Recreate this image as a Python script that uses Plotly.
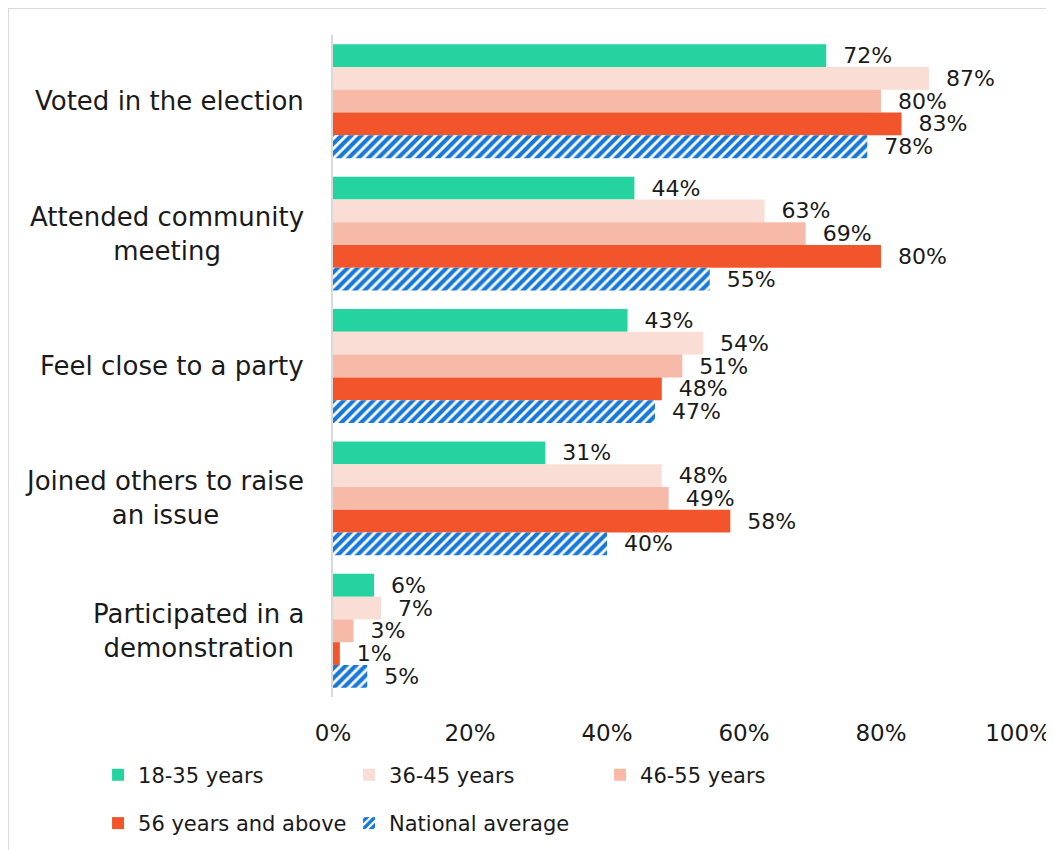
import plotly.graph_objects as go

categories = [
    "Voted in the election",
    "Attended community<br>meeting",
    "Feel close to a party",
    "Joined others to raise<br>an issue",
    "Participated in a<br>demonstration",
]
series_names = ["18-35 years", "36-45 years", "46-55 years", "56 years and above", "National average"]
v_18_35 = [72, 44, 43, 31, 6]
v_36_45 = [87, 63, 54, 48, 7]
v_46_55 = [80, 69, 51, 49, 3]
v_56_up = [83, 80, 48, 58, 1]
v_national = [78, 55, 47, 40, 5]
tick_vals = [0, 20, 40, 60, 80, 100]
tick_text = ["0%", "20%", "40%", "60%", "80%", "100%"]

FONT = "DejaVu Sans"
TXT = "#1a1a1a"
colors = ["#24D3A0", "#FADDD4", "#F8BAA8", "#F2552B", "#1878D8"]
values = [v_18_35, v_36_45, v_46_55, v_56_up, v_national]

fig = go.Figure()
for i, (name, vals, col) in enumerate(zip(series_names, values, colors)):
    if i == 4:
        marker = dict(color="white", line=dict(width=0),
                      pattern=dict(shape="/", fgcolor=col, bgcolor="white", size=7,
                                   solidity=0.6, fgopacity=1))
    else:
        marker = dict(color=col, line=dict(width=0))
    fig.add_trace(go.Bar(
        y=categories, x=vals, orientation="h", name=name, marker=marker,
        text=["\u00a0\u00a0" + str(v) + "%" for v in vals],
        texttemplate="%{text}", textposition="outside",
        textfont=dict(family=FONT, size=22, color=TXT),
        constraintext="none", cliponaxis=False,
        legend="legend" if i < 3 else "legend2",
        hoverinfo="skip",
    ))

for c in categories:
    fig.add_annotation(x=-0.0394, xref="paper", y=c, yref="y", text=c,
                       xanchor="right", yanchor="middle", align="center", showarrow=False,
                       font=dict(family=FONT, size=26, color=TXT))

# outer chart border
fig.add_shape(type="rect", xref="paper", yref="paper", x0=-0.4745, x1=2, y0=-1, y1=1.0408,
              line=dict(color="#d9d9d9", width=2), fillcolor="rgba(0,0,0,0)", layer="below")

leg_common = dict(orientation="h", xanchor="left", yanchor="middle", x=-0.343,
                  entrywidth=206, font=dict(family=FONT, size=21, color=TXT),
                  bgcolor="rgba(0,0,0,0)", traceorder="normal")

fig.update_layout(
    width=1054, height=850,
    margin=dict(l=325, r=44, t=27, b=161),
    paper_bgcolor="white", plot_bgcolor="white",
    barmode="group", bargap=0.14, bargroupgap=0,
    font=dict(family=FONT, size=22, color=TXT),
    xaxis=dict(range=[0, 100], tickvals=tick_vals, ticktext=tick_text, showgrid=False,
               zeroline=False, showline=False, ticks="outside", ticklen=15,
               tickcolor="rgba(0,0,0,0)", tickfont=dict(family=FONT, size=23, color=TXT)),
    yaxis=dict(autorange="reversed", showticklabels=False, showgrid=False, zeroline=False,
               showline=True, linecolor="#d9d9d9", linewidth=2, ticks=""),
    legend=dict(y=-0.118, **leg_common),
    legend2=dict(y=-0.191, **leg_common),
    showlegend=True,
)

fig.write_html("out.html")
